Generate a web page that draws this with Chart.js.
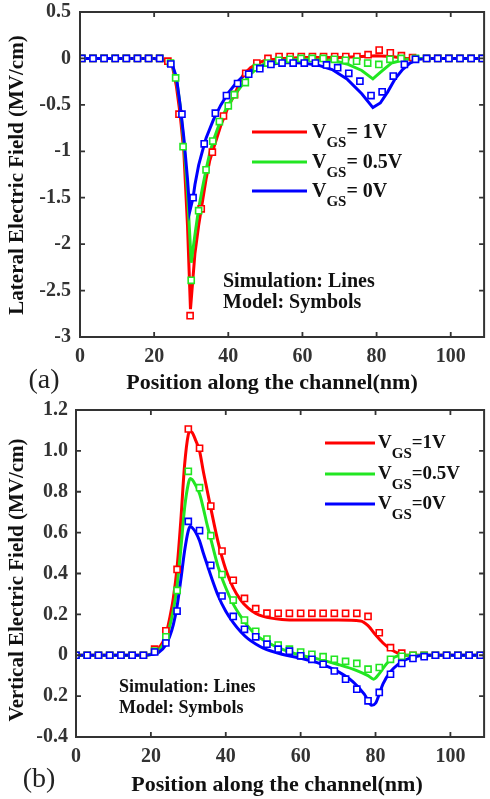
<!DOCTYPE html>
<html><head><meta charset="utf-8">
<script src="https://cdn.jsdelivr.net/npm/chart.js@4.4.0/dist/chart.umd.min.js"></script>
<style>
html,body{margin:0;padding:0;background:#fff;}
#wrap{position:relative;width:490px;height:799px;overflow:hidden;}
canvas{position:absolute;left:0;display:block;}
</style></head><body>
<div id="wrap">
<canvas id="cA" width="490" height="400" style="top:0"></canvas>
<canvas id="cB" width="490" height="399" style="top:400px"></canvas>
</div>
<script>
// ---------------- DATA: panel (a) lateral electric field ----------------
const xTicks = [0, 20, 40, 60, 80, 100];
const xTickLabels = ['0', '20', '40', '60', '80', '100'];
const yTicksA = [-3, -2.5, -2, -1.5, -1, -0.5, 0, 0.5];
const yTickLabelsA = ['-3', '-2.5', '-2', '-1.5', '-1', '-0.5', '0', '0.5'];
const seriesNames = ['VGS = 1V', 'VGS = 0.5V', 'VGS = 0V'];
const legendRestA = ['= 1V', '= 0.5V', '= 0V'];
const legendRestB = ['=1V', '=0.5V', '=0V'];

// simulation lines (a)
const simRedXA = [0,20,22,24,25,26,27,28,29,29.8,31,32,33,34,35,36,38,40,42,44,46,48,50,55,60,70,76,80,84,88,95,109];
const simRedYA = [0,0,-0.01,-0.04,-0.1,-0.3,-0.6,-1.0,-1.8,-2.7,-2.1,-1.8,-1.55,-1.3,-1.1,-0.97,-0.72,-0.52,-0.36,-0.18,-0.1,-0.05,-0.02,0,0.01,0.01,0.02,0.03,0.02,0,0,0];
const simGreenXA = [0,20,22,24,25,26,27,28,29,30,31,32,33,34,35,36,38,40,42,44,46,48,50,55,60,68,72,76,79,81,84,88,92,109];
const simGreenYA = [0,0,-0.01,-0.03,-0.09,-0.22,-0.5,-0.9,-1.45,-2.2,-1.9,-1.62,-1.4,-1.2,-1.02,-0.88,-0.66,-0.5,-0.38,-0.27,-0.17,-0.1,-0.05,-0.02,-0.01,-0.02,-0.06,-0.13,-0.22,-0.15,-0.05,-0.01,0,0];
const simBlueXA = [0,20,22,24,25,26,27,28,29,29.6,30.5,31,32,33,34,36,38,40,42,44,46,50,55,60,64,68,72,76,79,81,83,85,87,89,91,95,109];
const simBlueYA = [0,0,-0.01,-0.04,-0.08,-0.2,-0.5,-0.85,-1.3,-1.65,-1.5,-1.36,-1.15,-1.0,-0.86,-0.66,-0.5,-0.37,-0.27,-0.19,-0.13,-0.07,-0.045,-0.05,-0.07,-0.12,-0.22,-0.38,-0.53,-0.48,-0.36,-0.22,-0.12,-0.05,-0.01,0,0];

// model symbols (a)
const modRedXA = [0.5,3.5,6.5,9.5,12.5,15.5,18.5,21.5,23.7,26.7,29.7,32.7,35.7,38.7,41.7,44.7,47.7,50.7,53.7,56.7,59.7,62.7,65.7,68.7,71.7,74.7,77.7,80.7,83.7,86.7,89.7,93.5,96.5,99.5,102.5,105.5,108.5];
const modRedYA = [0,0,0,0,0,0,0,0,-0.03,-0.6,-2.77,-1.62,-1.01,-0.62,-0.39,-0.16,-0.05,0,0.02,0.02,0.02,0.02,0.02,0.02,0.02,0.02,0.04,0.09,0.06,0.03,0.01,0,0,0,0,0,0];
const modGreenXA = [0.5,3.5,6.5,9.5,12.5,15.5,18.5,21.5,24.4,25.8,27.8,30,32,34,35.8,37.6,40,41.6,44.6,47.6,50.6,53.6,56.6,59.6,62.6,65.6,68.6,71.6,74.6,77.6,80.6,83.6,86.6,90.5,93.5,96.5,99.5,102.5,105.5,108.5];
const modGreenYA = [0,0,0,0,0,0,0,0,-0.05,-0.21,-0.95,-2.39,-1.64,-1.2,-0.89,-0.68,-0.51,-0.39,-0.26,-0.1,-0.05,-0.02,-0.01,0,0,0,-0.01,-0.02,-0.03,-0.05,-0.065,-0.01,0,0,0,0,0,0,0,0];
const modBlueXA = [0.5,3.5,6.5,9.5,12.5,15.5,18.5,21.5,24.5,27.5,30.5,33.5,36.5,39.5,42.5,45.5,48.5,51.5,54.5,57.5,60.5,63.5,66.5,69.5,72.5,75.5,78.5,81.5,84.5,87.5,90.5,93.5,96.5,99.5,102.5,105.5,108.5];
const modBlueYA = [0,0,0,0,0,0,0,0,-0.06,-0.6,-1.5,-0.92,-0.59,-0.4,-0.27,-0.17,-0.11,-0.065,-0.05,-0.05,-0.05,-0.05,-0.07,-0.1,-0.16,-0.245,-0.4,-0.36,-0.19,-0.065,-0.01,0,0,0,0,0,0];

// ---------------- DATA: panel (b) vertical electric field ----------------
const yTicksB = [-0.4, -0.2, 0, 0.2, 0.4, 0.6, 0.8, 1.0, 1.2];
const yTickLabelsB = ['-0.4', '0.2', '0', '0.2', '0.4', '0.6', '0.8', '1.0', '1.2'];

const simRedXB = [0,18,20,22,24,25,26,27,28,29,30,30.5,31,32,33,34,35,36,38,40,42,44,46,48,50,55,60,70,76,78,80,82,84,86,88,109];
const simRedYB = [0,0,0.005,0.03,0.1,0.18,0.28,0.43,0.66,0.93,1.08,1.095,1.09,1.05,1.0,0.9,0.81,0.72,0.55,0.42,0.33,0.27,0.23,0.205,0.19,0.175,0.172,0.172,0.168,0.145,0.1,0.06,0.03,0.01,0,0];
const simGreenXB = [0,18,20,22,24,25,26,27,28,29,30,30.5,31,32,33,34,35,36,38,40,42,44,46,48,50,55,60,65,70,75,78,79.5,81,83,85,87,109];
const simGreenYB = [0,0,0.004,0.02,0.08,0.14,0.22,0.34,0.52,0.72,0.84,0.865,0.86,0.83,0.79,0.72,0.64,0.57,0.43,0.33,0.25,0.19,0.14,0.1,0.075,0.03,0.0,-0.02,-0.045,-0.075,-0.1,-0.117,-0.09,-0.04,-0.01,0,0];
const simBlueXB = [0,18,20,22,24,25,26,27,28,29,30,30.5,31,32,33,34,35,36,38,40,42,44,46,48,50,55,60,65,70,74,77,79,80,81,82,84,86,88,90,93,109];
const simBlueYB = [0,0,0.003,0.012,0.05,0.09,0.15,0.24,0.37,0.51,0.61,0.63,0.625,0.6,0.56,0.5,0.445,0.39,0.29,0.215,0.16,0.115,0.08,0.055,0.035,0.005,-0.015,-0.04,-0.08,-0.13,-0.19,-0.245,-0.235,-0.19,-0.14,-0.08,-0.045,-0.022,-0.01,0,0];

const modXB = [0,3,6,9,12,15,18,21,24,27,30,33,36,39,42,45,48,51,54,57,60,63,66,69,72,75,78,81,84,87,90,93,96,99,102,105,108];
const modRedYB = [0,0,0,0,0,0,0,0.03,0.12,0.42,1.107,1.013,0.73,0.51,0.367,0.278,0.228,0.206,0.205,0.205,0.205,0.205,0.205,0.205,0.205,0.205,0.19,0.11,0.037,0.01,0,0,0,0,0,0,0];
const modGreenYB = [0,0,0,0,0,0,0,0.02,0.09,0.317,0.9,0.82,0.585,0.395,0.27,0.172,0.117,0.079,0.05,0.03,0.016,0.005,-0.007,-0.02,-0.03,-0.04,-0.068,-0.06,-0.02,-0.005,0,0,0,0,0,0,0];
const modBlueYB = [0,0,0,0,0,0,0,0.016,0.06,0.216,0.655,0.61,0.44,0.29,0.19,0.127,0.09,0.054,0.03,0.02,-0.003,-0.02,-0.044,-0.077,-0.117,-0.166,-0.223,-0.182,-0.093,-0.04,-0.016,-0.007,0,0,0,0,0];

// ---------------- rendering ----------------
const FONT = "'Liberation Serif','Times New Roman',serif";
const RED = '#ff0000', GREEN = '#22e622', BLUE = '#0000ff';
const AXIS = '#333333';

function pts(xs, ys) { return xs.map((x, i) => ({ x: x, y: ys[i] })); }
function lineDs(label, xs, ys, color, order, smooth) {
  return { label, data: pts(xs, ys), showLine: true, borderColor: color, backgroundColor: color,
    borderWidth: 3, pointRadius: 0, pointHoverRadius: 0, tension: 0,
    cubicInterpolationMode: smooth ? 'monotone' : 'default', order };
}
function markDs(label, xs, ys, color, order) {
  return { label, data: pts(xs, ys), showLine: false, borderColor: color, backgroundColor: '#ffffff',
    borderWidth: 1.6, pointStyle: 'rect', pointRadius: 4.3, pointHoverRadius: 4.3, order };
}

const decoPlugin = {
  id: 'deco',
  afterDatasetsDraw(chart, args, opts) {
    const ctx = chart.ctx, a = chart.chartArea;
    const xs = chart.scales.x, ys = chart.scales.y;
    ctx.save();
    ctx.strokeStyle = AXIS; ctx.lineWidth = 2;
    ctx.strokeRect(a.left, a.top, a.right - a.left, a.bottom - a.top);
    ctx.lineWidth = 1.8;
    const tl = 5;
    xs.ticks.forEach(t => {
      const px = xs.getPixelForValue(t.value);
      if (px <= a.left + 1 || px >= a.right - 1) return;
      ctx.beginPath(); ctx.moveTo(px, a.bottom); ctx.lineTo(px, a.bottom - tl);
      ctx.moveTo(px, a.top); ctx.lineTo(px, a.top + tl); ctx.stroke();
    });
    ys.ticks.forEach(t => {
      const py = ys.getPixelForValue(t.value);
      if (py <= a.top + 1 || py >= a.bottom - 1) return;
      ctx.beginPath(); ctx.moveTo(a.left, py); ctx.lineTo(a.left + tl, py);
      ctx.moveTo(a.right, py); ctx.lineTo(a.right - tl, py); ctx.stroke();
    });
    ctx.restore();
  },
  afterDraw(chart, args, opts) {
    const ctx = chart.ctx;
    ctx.save();
    (opts.texts || []).forEach(t => {
      ctx.save();
      ctx.font = t.font; ctx.fillStyle = t.color || '#000';
      ctx.textAlign = t.align || 'left'; ctx.textBaseline = 'middle';
      ctx.translate(t.x, t.y);
      if (t.rotate) ctx.rotate(t.rotate);
      ctx.fillText(t.text, 0, 0);
      ctx.restore();
    });
    const L = opts.legend;
    if (L) {
      L.colors.forEach((c, i) => {
        const y = L.ys[i];
        ctx.strokeStyle = c; ctx.lineWidth = 3;
        ctx.beginPath(); ctx.moveTo(L.x0, y); ctx.lineTo(L.x1, y); ctx.stroke();
        let x = L.tx;
        ctx.fillStyle = '#111'; ctx.textAlign = 'left'; ctx.textBaseline = 'alphabetic';
        ctx.font = 'bold ' + L.big + 'px ' + FONT;
        ctx.fillText('V', x, y + L.vOff); x += ctx.measureText('V').width;
        ctx.font = 'bold ' + L.small + 'px ' + FONT;
        ctx.fillText('GS', x, y + L.sOff); x += ctx.measureText('GS').width;
        ctx.font = 'bold ' + L.big + 'px ' + FONT;
        ctx.fillText(L.rest[i], x, y + L.vOff);
      });
    }
    ctx.restore();
  }
};

function makeChart(id, datasets, yTicks, yLabels, yMin, yMax, yW, yPad, xH, pad, deco, xLabelPad) {
  const tickFont = { family: FONT, size: 20, weight: 'bold' };
  return new Chart(document.getElementById(id), {
    type: 'scatter',
    data: { datasets },
    options: {
      responsive: false, animation: false, devicePixelRatio: 1,
      layout: { padding: pad },
      plugins: { legend: { display: false }, tooltip: { enabled: false }, deco },
      scales: {
        x: {
          type: 'linear', min: 0, max: 109,
          afterBuildTicks: s => { s.ticks = xTicks.map(v => ({ value: v })); },
          afterFit: s => { s.height = xH; s.paddingLeft = 0; s.paddingRight = 0; s.paddingTop = 0; s.paddingBottom = 0; },
          ticks: { font: tickFont, color: AXIS, padding: xLabelPad, maxRotation: 0, autoSkip: false,
            callback: (v, i) => xTickLabels[i] },
          grid: { display: false, drawTicks: false }, border: { display: false }
        },
        y: {
          type: 'linear', min: yMin, max: yMax,
          afterBuildTicks: s => { s.ticks = yTicks.map(v => ({ value: v })); },
          afterFit: s => { s.width = yW; s.paddingTop = 0; s.paddingBottom = 0; s.paddingLeft = 0; s.paddingRight = 0; },
          ticks: { font: tickFont, color: AXIS, padding: yPad, autoSkip: false,
            callback: (v, i) => yLabels[i] },
          grid: { display: false, drawTicks: false }, border: { display: false }
        }
      }
    },
    plugins: [decoPlugin]
  });
}

const dsA = [
  markDs(seriesNames[2] + ' model', modBlueXA, modBlueYA, BLUE, 1),
  markDs(seriesNames[1] + ' model', modGreenXA, modGreenYA, GREEN, 2),
  markDs(seriesNames[0] + ' model', modRedXA, modRedYA, RED, 3),
  lineDs(seriesNames[2], simBlueXA, simBlueYA, BLUE, 4, false),
  lineDs(seriesNames[1], simGreenXA, simGreenYA, GREEN, 5, false),
  lineDs(seriesNames[0], simRedXA, simRedYA, RED, 6, false)
];
const dsB = [
  markDs(seriesNames[2] + ' model', modXB, modBlueYB, BLUE, 1),
  markDs(seriesNames[1] + ' model', modXB, modGreenYB, GREEN, 2),
  markDs(seriesNames[0] + ' model', modXB, modRedYB, RED, 3),
  lineDs(seriesNames[2], simBlueXB, simBlueYB, BLUE, 4, true),
  lineDs(seriesNames[1], simGreenXB, simGreenYB, GREEN, 5, true),
  lineDs(seriesNames[0], simRedXB, simRedYB, RED, 6, true)
];

const titleFont = 'bold 22px ' + FONT;
const yTitleFont = 'bold 21px ' + FONT;
const panelFont = '28px ' + FONT;

makeChart('cA', dsA, yTicksA, yTickLabelsA, -3, 0.5, 80, 9, 63, { top: 12, right: 3, left: 0, bottom: 0 }, {
  texts: [
    { text: 'Lateral Electric Field (MV/cm)', x: 18, y: 175, font: yTitleFont, align: 'center', rotate: -Math.PI / 2, color: '#111' },
    { text: 'Position along the channel(nm)', x: 272, y: 383, font: titleFont, align: 'center', color: '#111' },
    { text: '(a)', x: 44, y: 381, font: panelFont, align: 'center', color: '#222' },
    { text: 'Simulation: Lines', x: 223, y: 282, font: 'bold 20px ' + FONT, color: '#111' },
    { text: 'Model: Symbols', x: 223, y: 303, font: 'bold 20px ' + FONT, color: '#111' }
  ],
  legend: { colors: [RED, GREEN, BLUE], rest: legendRestA, ys: [132, 162, 191], x0: 252, x1: 307, tx: 312,
    big: 20, small: 15, vOff: 6, sOff: 15 }
}, 8);

makeChart('cB', dsB, yTicksB, yTickLabelsB, -0.4, 1.2, 76, 8, 62, { top: 10, right: 5, left: 0, bottom: 0 }, {
  texts: [
    { text: 'Vertical Electric Field (MV/cm)', x: 18, y: 180, font: yTitleFont, align: 'center', rotate: -Math.PI / 2, color: '#111' },
    { text: 'Position along the channel(nm)', x: 277, y: 385, font: titleFont, align: 'center', color: '#111' },
    { text: '(b)', x: 39, y: 380, font: panelFont, align: 'center', color: '#222' },
    { text: 'Simulation: Lines', x: 119, y: 287, font: 'bold 18px ' + FONT, color: '#111' },
    { text: 'Model: Symbols', x: 119, y: 308, font: 'bold 18px ' + FONT, color: '#111' }
  ],
  legend: { colors: [RED, GREEN, BLUE], rest: legendRestB, ys: [43, 74, 104], x0: 325, x1: 375, tx: 378,
    big: 19, small: 15, vOff: 5, sOff: 15 }
}, 8);
</script>
</body></html>
